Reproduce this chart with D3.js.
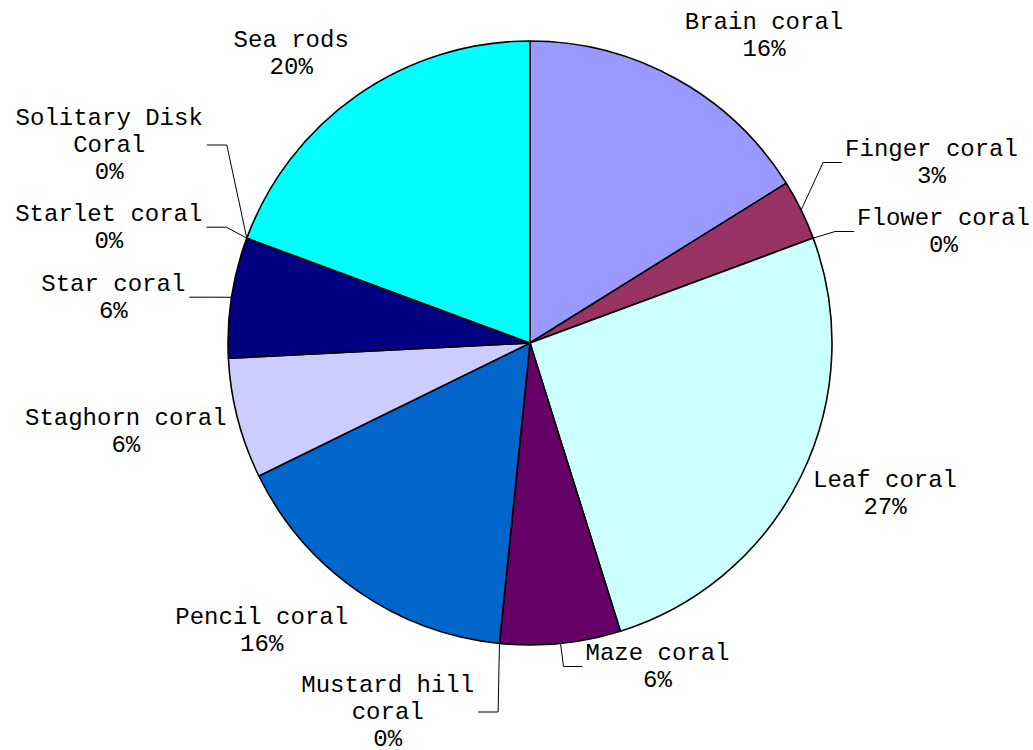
<!DOCTYPE html>
<html>
<head>
<meta charset="utf-8">
<script src="https://cdn.jsdelivr.net/npm/d3@7"></script>
<style>
  body { margin: 0; background: #fff; }
  svg { display: block; }
  .lbl { font-family: "Liberation Mono", "Courier New", monospace; font-size: 24px; fill: #000; }
</style>
</head>
<body>
<div id="chart"></div>
<script>
// categories, clockwise from 12 o'clock
const categories = ['Brain coral', 'Finger coral', 'Flower coral', 'Leaf coral', 'Maze coral',
  'Mustard hill coral', 'Pencil coral', 'Staghorn coral', 'Star coral', 'Starlet coral',
  'Solitary Disk Coral', 'Sea rods']
// counts
const counts = [5, 1, 0, 8, 2, 0, 5, 2, 2, 0, 0, 6]
// percent text as printed on the chart
const pctLabels = ['16%', '3%', '0%', '27%', '6%', '0%', '16%', '6%', '6%', '0%', '0%', '20%']
const colors = ['#9999FF', '#993366', '#FFFFCC', '#CCFFFF', '#660066', '#FF8080',
  '#0066CC', '#CCCCFF', '#000080', '#FF00FF', '#FFFF00', '#00FFFF']

const W = 1033, H = 750
const cx = 530, cy = 343, R = 302
const lineH = 27

// label anchor (center x, first baseline) relative to pie center, and leader flag
const labelLayout = [
  { dx: 234, dy: -314, leader: false },
  { dx: 401.5, dy: -187, leader: true },
  { dx: 413.5, dy: -118, leader: true },
  { dx: 355, dy: 144, leader: false },
  { dx: 127.5, dy: 317, leader: true },
  { dx: -142.3, dy: 349, leader: true },
  { dx: -268.3, dy: 280.5, leader: false },
  { dx: -404.2, dy: 82, leader: false },
  { dx: -416.7, dy: -52.3, leader: true },
  { dx: -421.2, dy: -122.3, leader: true },
  { dx: -420.8, dy: -218, leader: true },
  { dx: -238.8, dy: -296.3, leader: false },
]

// wrap long names to lines of at most 14 chars
const wrap = (s) => {
  if (s.length <= 14) return [s]
  const words = s.split(' ')
  const lines = []
  let cur = ''
  words.forEach(w => {
    const t = cur ? cur + ' ' + w : w
    if (t.length > 14 && cur) { lines.push(cur); cur = w } else cur = t
  })
  if (cur) lines.push(cur)
  return lines
}

const data = categories.map((c, i) => ({ name: c, value: counts[i], pct: pctLabels[i], color: colors[i], lay: labelLayout[i] }))

const svg = d3.select('#chart').append('svg')
  .attr('width', W).attr('height', H)
  .attr('viewBox', [0, 0, W, H])

const g = svg.append('g').attr('transform', `translate(${cx},${cy})`)

const pie = d3.pie().sort(null).value(d => d.value).startAngle(0).endAngle(2 * Math.PI)
const arcs = pie(data)
const arc = d3.arc().innerRadius(0).outerRadius(R)
const edgeArc = d3.arc().innerRadius(R).outerRadius(R)

g.selectAll('path.slice')
  .data(arcs)
  .enter()
  .append('path')
  .attr('class', 'slice')
  .attr('d', arc)
  .attr('fill', d => d.data.color)
  .attr('stroke', '#000')
  .attr('stroke-width', 1.6)
  .attr('stroke-linejoin', 'round')

// labels
const lblG = g.selectAll('g.label')
  .data(arcs)
  .enter()
  .append('g')
  .attr('class', 'label')

lblG.each(function (d) {
  const sel = d3.select(this)
  const lines = wrap(d.data.name).concat([d.data.pct])
  const t = sel.append('text')
    .attr('class', 'lbl')
    .attr('text-anchor', 'middle')
  lines.forEach((ln, i) => {
    t.append('tspan')
      .attr('x', d.data.lay.dx)
      .attr('y', d.data.lay.dy + i * lineH)
      .text(ln)
  })
  if (!d.data.lay.leader) return
  // leader line: edge point -> elbow -> end near label side
  let maxW = 0
  t.selectAll('tspan').each(function () { maxW = Math.max(maxW, this.getComputedTextLength()) })
  const start = edgeArc.centroid(d)
  const onRight = d.data.lay.dx > start[0]
  const midY = d.data.lay.dy + (lines.length - 1) * lineH / 2 - 7
  const endX = onRight ? d.data.lay.dx - maxW / 2 - 3 : d.data.lay.dx + maxW / 2 + 4
  const elbowX = onRight ? endX - 19 : endX + 20
  sel.append('path')
    .attr('d', `M${start[0]},${start[1]}L${elbowX},${midY}L${endX},${midY}`)
    .attr('fill', 'none')
    .attr('stroke', '#000')
    .attr('stroke-width', 1)
})
</script>
</body>
</html>
